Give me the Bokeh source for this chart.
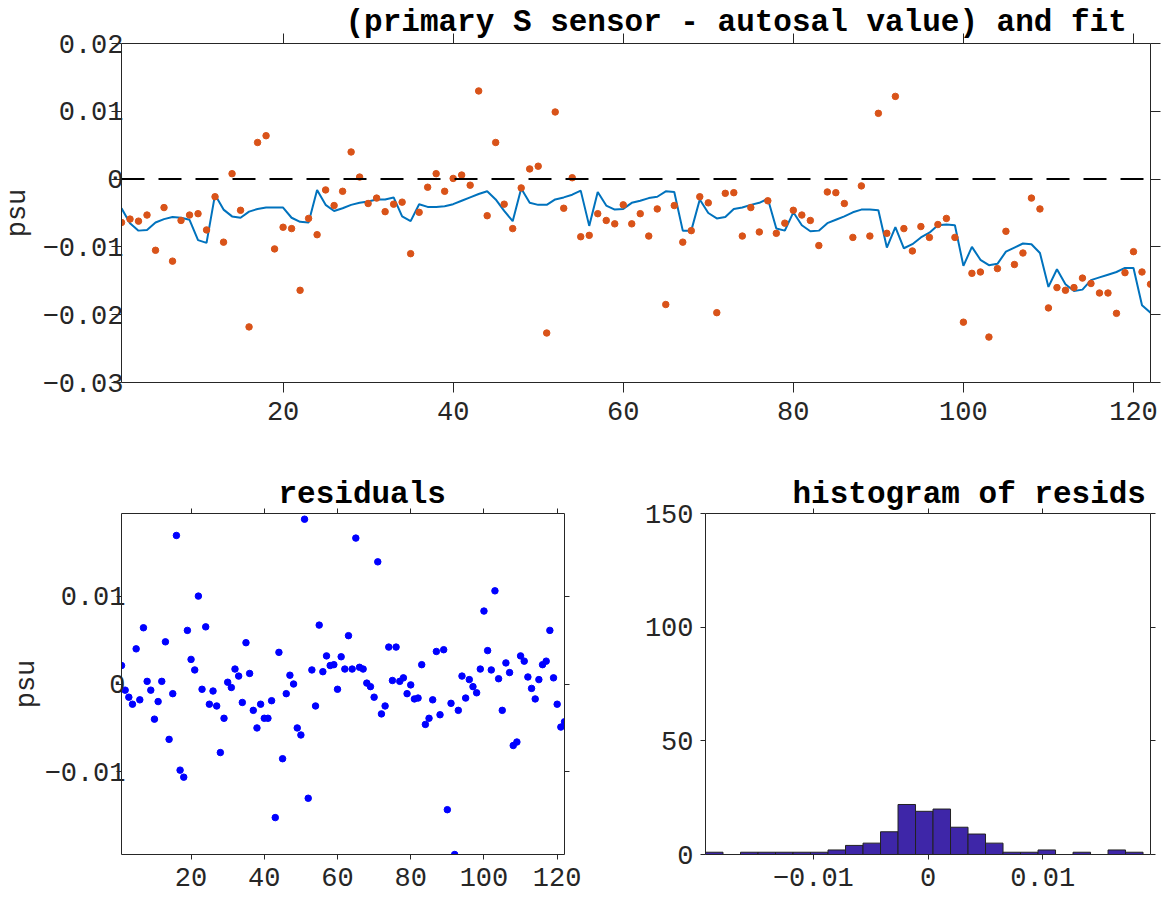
import numpy as np
from bokeh.plotting import figure
from bokeh.models import Range1d, LinearAxis, FixedTicker, Span, Title, CustomJSTickFormatter
from bokeh.layouts import column, row
from bokeh.embed import file_html
from bokeh.resources import INLINE

# ---------------- data ----------------
sample = list(range(1, 123))

obs = [-0.0064, -0.0059, -0.0062, -0.0053, -0.0105, -0.0042, -0.0121, -0.0061, -0.0053, -0.0051,
       -0.0075, -0.0026, -0.0093, 0.0008, -0.0046, -0.0218, 0.0054, 0.0064, -0.0103, -0.0071,
       -0.0073, -0.0164, -0.0058, -0.0082, -0.0016, -0.0039, -0.0018, 0.0040, 0.0003, -0.0036,
       -0.0028, -0.0048, -0.0037, -0.0034, -0.0110, -0.0049, -0.0012, 0.0008, -0.0018, 0.0001,
       0.0006, -0.0009, 0.0130, -0.0054, 0.0054, -0.0037, -0.0073, -0.0013, 0.0015, 0.0019,
       -0.0227, 0.0099, -0.0043, 0.0002, -0.0085, -0.0083, -0.0051, -0.0061, -0.0066, -0.0038,
       -0.0066, -0.0051, -0.0084, -0.0044, -0.0185, -0.0039, -0.0093, -0.0076, -0.0026, -0.0035,
       -0.0197, -0.0021, -0.0020, -0.0084, -0.0042, -0.0078, -0.0032, -0.0080, -0.0065, -0.0046,
       -0.0053, -0.0061, -0.0098, -0.0019, -0.0020, -0.0036, -0.0086, -0.0010, -0.0084, 0.0097,
       -0.0080, 0.0122, -0.0073, -0.0106, -0.0070, -0.0086, -0.0067, -0.0058, -0.0086, -0.0211,
       -0.0139, -0.0137, -0.0233, -0.0132, -0.0077, -0.0126, -0.0109, -0.0028, -0.0044, -0.0190,
       -0.0160, -0.0164, -0.0160, -0.0146, -0.0154, -0.0168, -0.0168, -0.0198, -0.0138, -0.0107,
       -0.0137, -0.0155]

fit = [-0.0043, -0.0065, -0.0076, -0.0075, -0.0064, -0.0059, -0.0056, -0.0057, -0.0060, -0.0090,
       -0.0094, -0.0023, -0.0045, -0.0055, -0.0057, -0.0048, -0.0044, -0.0042, -0.0042, -0.0042,
       -0.0057, -0.0063, -0.0064, -0.0016, -0.0038, -0.0047, -0.0043, -0.0038, -0.0035, -0.0033,
       -0.0030, -0.0030, -0.0027, -0.0055, -0.0062, -0.0037, -0.0041, -0.0041, -0.0040, -0.0037,
       -0.0032, -0.0027, -0.0022, -0.0018, -0.0030, -0.0047, -0.0062, -0.0014, -0.0035, -0.0038,
       -0.0038, -0.0030, -0.0027, -0.0023, -0.0017, -0.0069, -0.0019, -0.0039, -0.0045, -0.0044,
       -0.0035, -0.0032, -0.0028, -0.0026, -0.0018, -0.0019, -0.0076, -0.0076, -0.0030, -0.0050,
       -0.0058, -0.0056, -0.0044, -0.0042, -0.0038, -0.0035, -0.0029, -0.0073, -0.0076, -0.0049,
       -0.0068, -0.0077, -0.0076, -0.0065, -0.0060, -0.0055, -0.0049, -0.0045, -0.0045, -0.0046,
       -0.0101, -0.0071, -0.0102, -0.0096, -0.0086, -0.0079, -0.0068, -0.0067, -0.0068, -0.0128,
       -0.0100, -0.0119, -0.0127, -0.0125, -0.0107, -0.0101, -0.0095, -0.0096, -0.0109, -0.0159,
       -0.0133, -0.0155, -0.0165, -0.0163, -0.0149, -0.0145, -0.0141, -0.0137, -0.0131, -0.0131,
       -0.0186, -0.0197]

resid = [0.0021, -0.0007, -0.0015, -0.0023, 0.0040, -0.0018, 0.0064, 0.0003, -0.0007, -0.0040,
         -0.0020, 0.0003, 0.0048, -0.0063, -0.0011, 0.0169, -0.0098, -0.0106, 0.0061, 0.0028,
         0.0016, 0.0100, -0.0006, 0.0065, -0.0023, -0.0008, -0.0025, -0.0078, -0.0039, 0.0002,
         -0.0004, 0.0017, 0.0009, -0.0021, 0.0047, 0.0012, -0.0030, -0.0050, -0.0023, -0.0039,
         -0.0039, -0.0019, -0.0152, 0.0036, -0.0085, -0.0011, 0.0010, 0.0000, -0.0050, -0.0058,
         0.01875, -0.0130, 0.0016, -0.0025, 0.0067, 0.0014, 0.0032, 0.0021, 0.0022, -0.0006,
         0.0031, 0.0017, 0.0055, 0.0017, 0.0166, 0.0019, 0.0017, 0.0001, -0.0003, -0.0015,
         0.0139, -0.0034, -0.0025, 0.0042, 0.0004, 0.0042, 0.0003, 0.0007, -0.0011, -0.0001,
         -0.0017, -0.0016, 0.0022, -0.0046, -0.0039, -0.0018, 0.0037, -0.0035, 0.0039, -0.0143,
         -0.0022, -0.0194, -0.0030, 0.0009, -0.0016, 0.0005, -0.0003, -0.0010, 0.0017, 0.0083,
         0.0038, 0.0016, 0.0106, 0.0006, -0.0030, 0.0024, 0.0013, -0.0070, -0.0066, 0.0032,
         0.0026, 0.0008, -0.0005, -0.0017, 0.0005, 0.0022, 0.0026, 0.0061, 0.0007, -0.0023,
         -0.0049, -0.0043]

hist_counts = [1, 0, 1, 1, 1, 1, 1, 2, 4, 5, 10, 22, 19, 20, 12, 9, 5, 1, 1, 2, 0, 1, 0, 2, 1]

top_x_ticks = [20, 40, 60, 80, 100, 120]
top_y_ticks = [-0.03, -0.02, -0.01, 0, 0.01, 0.02]
top_y_labels = ["\u22120.03", "\u22120.02", "\u22120.01", "0", "0.01", "0.02"]
res_y_ticks = [-0.01, 0, 0.01]
res_y_labels = ["\u22120.01", "0", "0.01"]
hist_x_ticks = [-0.01, 0, 0.01]
hist_x_labels = ["\u22120.01", "0", "0.01"]
hist_y_ticks = [0, 50, 100, 150]

title_top = "(primary S sensor - autosal value) and fit"
title_res = "residuals"
title_hist = "histogram of resids"
y_label = "psu"

# ---------------- style ----------------
FONT = "Liberation Mono"
AX = "#262626"
TICK_FS = "27px"


def style_axis(ax, ticks, tick_out, standoff, labels=None, show=True):
    ax.ticker = FixedTicker(ticks=ticks, minor_ticks=[])
    ax.major_tick_in = 0
    ax.major_tick_out = tick_out
    ax.minor_tick_in = 0
    ax.minor_tick_out = 0
    ax.axis_line_color = AX
    ax.axis_line_width = 1
    ax.major_tick_line_color = AX
    ax.major_tick_line_width = 1
    ax.major_label_standoff = standoff
    ax.major_label_text_font = FONT
    ax.major_label_text_font_size = TICK_FS
    ax.major_label_text_color = AX
    if labels:
        ax.major_label_overrides = dict(zip(ticks, labels))
    if not show:
        ax.formatter = CustomJSTickFormatter(code="return ''")
        ax.major_label_text_font_size = "0px"
        ax.major_label_standoff = 0


def ylabel(ax, text, standoff):
    ax.axis_label = text
    ax.axis_label_text_font = FONT
    ax.axis_label_text_font_size = TICK_FS
    ax.axis_label_text_font_style = "normal"
    ax.axis_label_text_color = AX
    ax.axis_label_standoff = standoff


def base_fig(width, height, xr, yr, bl, br, bt, bb, title, t_off, t_stand):
    ttl = Title(text=title, align="left", offset=t_off, standoff=t_stand,
                text_font=FONT, text_font_size="31px", text_font_style="bold",
                text_color="black")
    p = figure(width=width, height=height, x_range=xr, y_range=yr, title=ttl,
               output_backend="svg", toolbar_location=None,
               min_border_left=bl, min_border_right=br, min_border_top=bt, min_border_bottom=bb)
    p.xgrid.visible = False
    p.ygrid.visible = False
    p.outline_line_color = None
    p.background_fill_color = "white"
    p.border_fill_color = "white"
    return p


# ---------------- top: data and fit ----------------
top = base_fig(1169, 440, Range1d(1, 122), Range1d(-0.03, 0.02), 121, 19, 43, 58,
               title_top, 224, -13)
style_axis(top.xaxis[0], top_x_ticks, 10, 9)
style_axis(top.yaxis[0], top_y_ticks, 10, -12, top_y_labels)
ylabel(top.yaxis[0], y_label, 6)
ax_t = LinearAxis()
style_axis(ax_t, top_x_ticks, 10, 0, show=False)
top.add_layout(ax_t, "above")
ax_r = LinearAxis()
style_axis(ax_r, top_y_ticks, 10, 0, show=False)
top.add_layout(ax_r, "right")

top.add_layout(Span(location=0, dimension="width", line_color="black", line_width=2,
                    line_dash="23 14"))
top.line(sample, fit, line_color="#0072BD", line_width=2)
top.scatter(sample, obs, size=6.5, fill_color="#D95319", line_color="#D95319")

# ---------------- bottom left: residuals ----------------
m = max(abs(v) for v in resid)
res = base_fig(620, 458, Range1d(1, 122), Range1d(-m, m), 121, 56, 73, 44,
               title_res, 157, -7)
style_axis(res.xaxis[0], top_x_ticks, 5, 8)
style_axis(res.yaxis[0], res_y_ticks, 5, -9, res_y_labels)
ylabel(res.yaxis[0], y_label, -1)
rt = LinearAxis()
style_axis(rt, top_x_ticks, 5, 0, show=False)
res.add_layout(rt, "above")
rr = LinearAxis()
style_axis(rr, res_y_ticks, 5, 0, show=False)
res.add_layout(rr, "right")
res.scatter(sample, resid, size=6.5, fill_color="#0000FF", line_color="#0000FF")

# ---------------- bottom right: histogram ----------------
edges = np.linspace(min(resid), max(resid), len(hist_counts) + 1)
hist = base_fig(549, 458, Range1d(-m, m), Range1d(0, 150), 85, 19, 73, 44,
                title_hist, 87, -7)
style_axis(hist.xaxis[0], hist_x_ticks, 5, 8, hist_x_labels)
style_axis(hist.yaxis[0], hist_y_ticks, 5, 7)
ht = LinearAxis()
style_axis(ht, hist_x_ticks, 5, 0, show=False)
hist.add_layout(ht, "above")
hr = LinearAxis()
style_axis(hr, hist_y_ticks, 5, 0, show=False)
hist.add_layout(hr, "right")
hist.quad(left=edges[:-1], right=edges[1:], bottom=0, top=hist_counts,
          fill_color="#3E26A8", line_color="#222222", line_width=1)

layout = column(top, row(res, hist))
open("out.html", "w").write(file_html(layout, INLINE))
